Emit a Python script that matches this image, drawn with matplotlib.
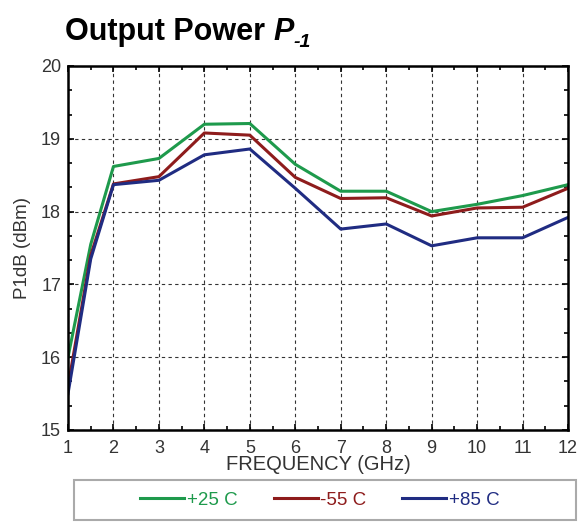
import numpy as np
import matplotlib
matplotlib.use("Agg")
import matplotlib.pyplot as plt
from matplotlib.ticker import MultipleLocator
from matplotlib.patches import Rectangle

plt.rcParams['font.family'] = ['Liberation Sans', 'DejaVu Sans']

freq = [1, 1.5, 2, 3, 4, 5, 6, 7, 8, 9, 10, 11, 12]
p_25 = [16.0, 17.55, 18.62, 18.73, 19.2, 19.21, 18.65, 18.28, 18.28, 18.0, 18.1, 18.22, 18.37]
p_m55 = [15.6, 17.4, 18.38, 18.48, 19.08, 19.05, 18.47, 18.18, 18.19, 17.94, 18.05, 18.06, 18.32]
p_85 = [15.5, 17.35, 18.37, 18.43, 18.78, 18.86, 18.32, 17.76, 17.83, 17.53, 17.64, 17.64, 17.92]

labels = ['+25 C', '-55 C', '+85 C']
colors = ['#1e9a4c', '#8e1c1c', '#202c82']

fig = plt.figure(figsize=(5.82, 5.25), dpi=100)
ax = fig.add_axes([68/582, 1-430/525, 500/582, 364/525])

for y, lab, c in zip([p_25, p_m55, p_85], labels, colors):
    ax.plot(freq, y, color=c, lw=2.2, label=lab)

ax.set_xlim(1, 12)
ax.set_ylim(15, 20)
ax.set_xticks(range(1, 13))
ax.set_yticks(range(15, 21))
ax.xaxis.set_minor_locator(MultipleLocator(0.5))
ax.yaxis.set_minor_locator(MultipleLocator(1/3))
ax.tick_params(which='both', direction='in', top=True, right=True, width=1.2)
ax.tick_params(which='major', length=4, labelsize=13, labelcolor='#333333')
ax.tick_params(axis='x', pad=7)
ax.tick_params(axis='y', pad=5)
ax.tick_params(which='minor', length=3)
for s in ax.spines.values():
    s.set_linewidth(1.8)
ax.grid(True, color='#333333', linestyle=(0, (3, 3)), lw=0.8)

ax.set_xlabel('FREQUENCY (GHz)', fontsize=14.5, color='#333333', labelpad=-1)
ax.set_ylabel('P1dB (dBm)', fontsize=13.5, color='#333333', labelpad=7)

# title with italic subscripted P
t1 = fig.text(65/582, 1-40/525, 'Output Power ', fontsize=22, fontweight='bold', ha='left', va='baseline')
fig.canvas.draw()
x_end = t1.get_window_extent().x1 / fig.bbox.width
t2 = fig.text(x_end, 1-40/525, 'P', fontsize=22, fontweight='bold', style='italic', ha='left', va='baseline')
fig.canvas.draw()
x_end2 = t2.get_window_extent().x1 / fig.bbox.width
fig.text(x_end2, 1-47/525, '-1', fontsize=14, fontweight='bold', style='italic', ha='left', va='baseline')

# legend box below the plot
fig.patches.append(Rectangle((74/582, 5/525), 502/582, 40/525, transform=fig.transFigure,
                             facecolor='white', edgecolor='#aaaaaa', lw=1.5))
handles, labs = ax.get_legend_handles_labels()
leg = fig.legend(handles, labs, loc='center', bbox_to_anchor=(320/582, 25/525), ncol=3,
                 frameon=False, fontsize=13.5, handlelength=2.35, handletextpad=0.15,
                 columnspacing=1.9)
for t, c in zip(leg.get_texts(), colors):
    t.set_color(c)

fig.savefig('out.png', dpi=100)
